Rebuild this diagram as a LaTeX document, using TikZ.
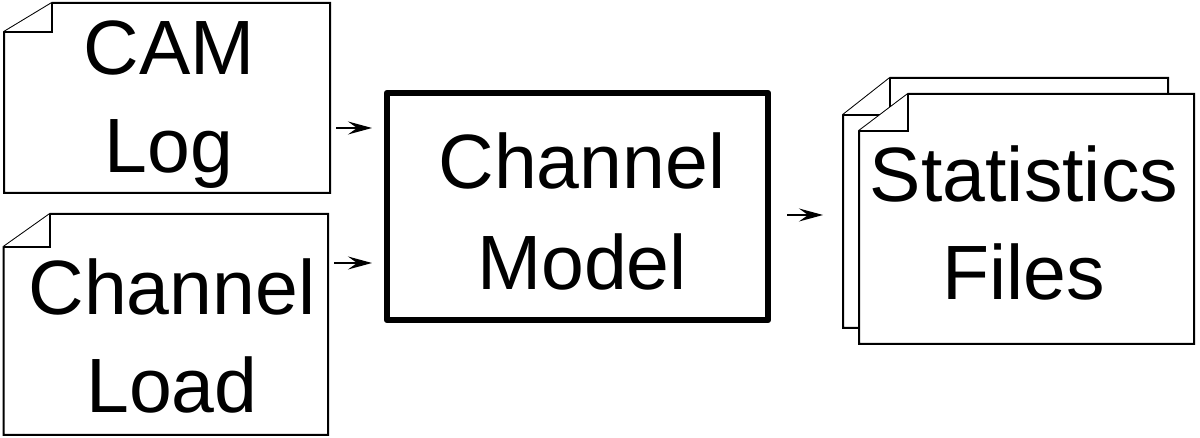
\documentclass[tikz,border=0pt]{standalone}
\usepackage{fontspec}
\setmainfont{Liberation Sans}
\usetikzlibrary{arrows.meta}
\begin{document}
\begin{tikzpicture}[x=1pt,y=1pt,
  area/.style={draw=none,inner sep=0pt,outer sep=0pt},
  doc/.style={draw=black,line width=2pt,fill=white,line join=miter},
  modelbox/.style={draw=black,line width=6.5pt,line join=round,fill=white},
  txt/.style={inner sep=0pt,align=center,anchor=base,font=\fontsize{77}{98}\selectfont},
  arr/.style={line width=1.5pt,-{Stealth[length=24pt,width=13pt,inset=9pt]}}]
\useasboundingbox (0,0) rectangle (1200,438);
% CAM Log
\node[area,minimum width=326,minimum height=190] (cam) at (167,340) {};
\draw[doc] (cam.south west) -- ([yshift=-29]cam.north west) -- ([xshift=48]cam.north west) -- (cam.north east) -- (cam.south east) -- cycle;
\draw[doc] ([yshift=-29]cam.north west) -| ([xshift=48]cam.north west);
\node[txt] (camtxt) at (169,265) {CAM\\Log};
% Channel Load
\node[area,minimum width=324.5,minimum height=221] (load) at (165.75,113.5) {};
\draw[doc] (load.south west) -- ([yshift=-33]load.north west) -- ([xshift=46.5]load.north west) -- (load.north east) -- (load.south east) -- cycle;
\draw[doc] ([yshift=-33]load.north west) -| ([xshift=46.5]load.north west);
\node[txt] (loadtxt) at (172,25) {Channel\\Load};
% Channel Model
\node[area,modelbox,minimum width=381,minimum height=227] (model) at (577.5,231.5) {};
\node[txt,font=\fontsize{77}{101}\selectfont] (modeltxt) at (582,148) {Channel\\Model};
% Statistics files (back page)
\node[area,minimum width=325,minimum height=250] (back) at (1005.5,235) {};
\draw[doc] (back.south west) -- ([yshift=-37]back.north west) -- ([xshift=47]back.north west) -- (back.north east) -- (back.south east) -- cycle;
\draw[doc] ([yshift=-37]back.north west) -| ([xshift=47]back.north west);
% front page
\node[area,minimum width=335,minimum height=250] (front) at (1026.5,219) {};
\draw[doc] (front.south west) -- ([yshift=-37]front.north west) -- ([xshift=49]front.north west) -- (front.north east) -- (front.south east) -- cycle;
\draw[doc] ([yshift=-37]front.north west) -| ([xshift=49]front.north west);
\node[txt] (statstxt) at (1024,138) {Statistics\\Files};
% arrows
\draw[arr] ([shift={(6,-30)}]cam.east) -- ([shift={(-15,78.5)}]model.west);
\draw[arr] ([shift={(6,61.5)}]load.east) -- ([shift={(-15,-56.5)}]model.west);
\draw[arr] ([shift={(19,-8.5)}]model.east) -- ([shift={(-20,-12)}]back.west);
\end{tikzpicture}
\end{document}
